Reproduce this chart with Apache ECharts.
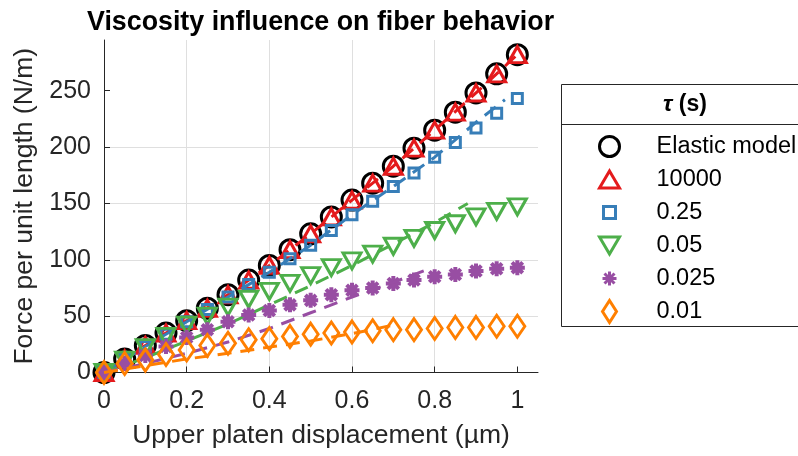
<!DOCTYPE html>
<html><head><meta charset="utf-8">
<script src="https://cdn.jsdelivr.net/npm/echarts@6/dist/echarts.min.js"></script>
<style>html,body{margin:0;padding:0;background:#fff}#c{width:798px;height:456px}</style>
</head><body><div id="c"></div>
<script>
// ---------------- data ----------------
const xValues   = [0,0.05,0.1,0.15,0.2,0.25,0.3,0.35,0.4,0.45,0.5,0.55,0.6,0.65,0.7,0.75,0.8,0.85,0.9,0.95,1];
const elastic   = [0,12,24,35,46,57,69,82,95,109,123,138,153,168,183,199,215,231,248,265,282];
const tau10000  = [0,12,24,35,46,57,69,82,95,109,123,138,153,168,183,199,215,231,248,265,282];
const tau025    = [0,12,23,34,45,56,67,78,89,101,113,126,140,152,165,177,191,204,217,230,243];
const tau005    = [0,11,22,32,42,50,58,65,72,79,86,93,99,105,112,119,126,132,138,143,147];
const tau0025   = [0,8,15,23,31,38,45,51,55,60,64,69,73,75,79,82,85,87,90,92,93];
const tau001    = [0,8,11,16,20,24,26,29,30,32,34,35,36,37,38,38,39,40,40,41,41];

// dashed model curves
const dash10000X = [0,0.1,0.2,0.3,0.4,0.5,0.6,0.7,0.8,0.9,1];
const dash10000Y = [0,24,46,69,95,123,153,183,215,248,282];
const dash025X   = [0,0.1,0.2,0.3,0.4,0.5,0.6,0.7,0.8,0.9,0.97];
const dash025Y   = [0,23,45,67,89,113,140,165,191,222,242];
const dash005X   = [0,0.1,0.2,0.3,0.4,0.5,0.6,0.7,0.8,0.88];
const dash005Y   = [0,13,28,43,60,77,95,114,133,150];
const dash0025X  = [0,0.1,0.2,0.3,0.4,0.5,0.6,0.7,0.78];
const dash0025Y  = [0,8,17,27,39,53,67,80,91];
const dash001X   = [0,0.1,0.2,0.3,0.4,0.5,0.6,0.7];
const dash001Y   = [0,6,12,17,22.5,28,34.5,42];

const xTicks = [0,0.2,0.4,0.6,0.8,1];
const yTicks = [0,50,100,150,200,250];
const legendNames = ['Elastic model','10000','0.25','0.05','0.025','0.01'];

// ---------------- styling ----------------
const FONT = 'Liberation Sans, Arial, Helvetica, sans-serif';
const AX = '#262626';
const colors = ['#000000','#e41a1c','#377eb8','#4daf4a','#984ea3','#ff7f00'];
const symbols = [
  'circle',
  'triangle',
  'rect',
  'path://M0,0 L20,0 L10,17 Z',
  'path://M7,0 L7,14 M0,7 L14,7 M2,2 L12,12 M2,12 L12,2',
  'diamond'
];
const sizes = [20, [18,16], 10, [18,16], 15, [15,22]];
const pad = 'path://M0,0 M26,26 ';
const legendIcons = [
  pad + 'M3,13 A10,10 0 1,1 23,13 A10,10 0 1,1 3,13 Z',
  pad + 'M13,4.5 L23,21.5 L3,21.5 Z',
  pad + 'M7,7 L19,7 L19,19 L7,19 Z',
  pad + 'M3,4.5 L23,4.5 L13,21.5 Z',
  pad + 'M13,6 L13,20 M6,13 L20,13 M8,8 L18,18 M8,18 L18,8',
  pad + 'M13,2 L20,13 L13,24 L6,13 Z'
];

const markerData = [elastic, tau10000, tau025, tau005, tau0025, tau001];
const dashSets = [null, [dash10000X,dash10000Y], [dash025X,dash025Y], [dash005X,dash005Y], [dash0025X,dash0025Y], [dash001X,dash001Y]];

const series = [];
markerData.forEach((vals, i) => {
  series.push({
    type: 'scatter', name: legendNames[i],
    data: xValues.map((x, k) => [x, vals[k]]),
    symbol: symbols[i], symbolSize: sizes[i],
    itemStyle: { color: 'rgba(0,0,0,0)', borderColor: colors[i], borderWidth: i === 4 ? 4 : 3, opacity: 1 },
    z: 2 + i * 2, silent: true, clip: false
  });
  if (dashSets[i]) {
    const [dx, dy] = dashSets[i];
    series.push({
      type: 'line', name: 'model ' + legendNames[i],
      data: dx.map((x, k) => [x, dy[k]]),
      symbol: 'none', showSymbol: false,
      lineStyle: { color: colors[i], width: 3, type: [14, 9] },
      z: 3 + i * 2, silent: true
    });
  }
});

const chart = echarts.init(document.getElementById('c'), null, { renderer: 'canvas' });
chart.setOption({
  animation: false,
  backgroundColor: '#fff',
  title: {
    text: 'Viscosity influence on fiber behavior',
    left: 82, top: 4,
    textStyle: { fontFamily: FONT, fontSize: 26.8, fontWeight: 'bold', color: '#000' }
  },
  grid: { left: 104, top: 40, right: 260, bottom: 83.5 },
  xAxis: {
    type: 'value', min: 0, max: 1.05,
    name: 'Upper platen displacement (\u00b5m)', nameLocation: 'middle', nameGap: 50,
    nameTextStyle: { fontFamily: FONT, fontSize: 26.5, color: AX },
    axisLine: { show: true, onZero: false, lineStyle: { color: AX, width: 1 } },
    axisTick: { show: true, inside: true, length: 6, customValues: xTicks, lineStyle: { color: AX } },
    axisLabel: { customValues: xTicks, margin: 16, fontFamily: FONT, fontSize: 25, color: AX,
                 formatter: v => String(+v.toFixed(2)) },
    splitLine: { show: true, showMinLine: false, showMaxLine: false, lineStyle: { color: '#dfdfdf', width: 1 } }
  },
  yAxis: {
    type: 'value', min: 0, max: 295, interval: 50,
    name: 'Force per unit length (N/m)', nameLocation: 'middle', nameGap: 66, nameRotate: 90,
    nameTextStyle: { fontFamily: FONT, fontSize: 26.5, color: AX },
    axisLine: { show: true, onZero: false, lineStyle: { color: AX, width: 1 } },
    axisTick: { show: true, inside: true, length: 6, customValues: yTicks, lineStyle: { color: AX } },
    axisLabel: { customValues: yTicks, margin: 13, fontFamily: FONT, fontSize: 25, color: AX },
    splitLine: { show: true, showMinLine: false, showMaxLine: false, lineStyle: { color: '#dfdfdf', width: 1 } }
  },
  legend: {
    data: legendNames.map((n, i) => ({ name: n, icon: legendIcons[i] })),
    orient: 'vertical', left: 590, top: 127,
    itemWidth: 26, itemHeight: 26, itemGap: 4,
    selectedMode: false,
    itemStyle: { borderWidth: 3 },
    textStyle: { fontFamily: FONT, fontSize: 23.5, color: '#000', padding: [0, 0, 0, 29] },
    z: 10
  },
  graphic: [
    { type: 'rect', z: 1, silent: true,
      shape: { x: 561.5, y: 84.5, width: 300, height: 242 },
      style: { fill: '#fff', stroke: AX, lineWidth: 1 } },
    { type: 'line', z: 2, silent: true,
      shape: { x1: 561.5, y1: 124.5, x2: 800, y2: 124.5 },
      style: { stroke: AX, lineWidth: 1 } },
    { type: 'text', z: 3, silent: true, x: 685, y: 105,
      style: { text: '{t|\u03c4 }{s|(s)}', align: 'center', verticalAlign: 'middle',
               textAlign: 'center', textVerticalAlign: 'middle', fill: '#000',
               rich: { t: { fontFamily: FONT, fontSize: 23, fontWeight: 'bold', fontStyle: 'italic', fill: '#000', color: '#000' },
                       s: { fontFamily: FONT, fontSize: 23, fontWeight: 'bold', fill: '#000', color: '#000' } } } }
  ],
  series: series
});
</script></body></html>
